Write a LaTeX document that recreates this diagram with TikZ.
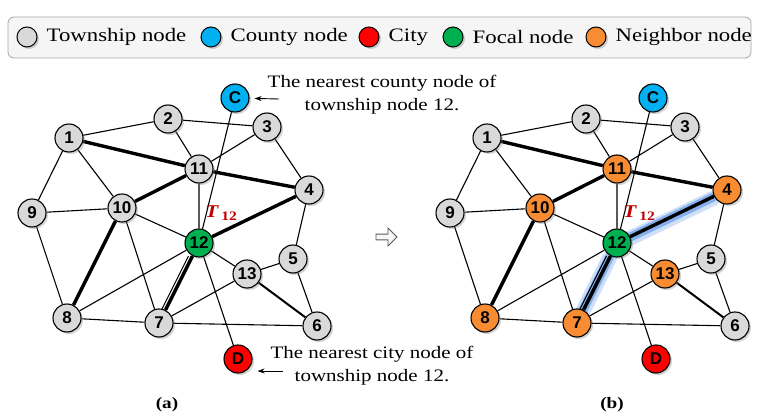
\documentclass[tikz,border=0pt]{standalone}
\usepackage{fontspec}
\setmainfont{Liberation Serif}[FakeStretch=1.2]
\setsansfont{Liberation Sans}
\usetikzlibrary{shadows, shapes.arrows, arrows.meta, positioning}

\definecolor{towngray}{RGB}{217,217,217}
\definecolor{countyblue}{RGB}{0,176,240}
\definecolor{cityred}{RGB}{255,0,0}
\definecolor{focalgreen}{RGB}{0,176,80}
\definecolor{nbrorange}{RGB}{247,140,50}
\definecolor{glowblue}{RGB}{95,150,230}
\definecolor{tred}{RGB}{192,0,0}

\pgfdeclarelayer{back}
\pgfsetlayers{back,main}

\tikzset{
  vert/.style={circle, draw=black, line width=1.1pt, minimum size=28pt, inner sep=0pt,
    font=\sffamily\bfseries\fontsize{17}{17}\selectfont,
    drop shadow={shadow xshift=2pt, shadow yshift=-2pt, opacity=.35}},
  town/.style={vert, fill=towngray},
  county/.style={vert, fill=countyblue},
  city/.style={vert, fill=cityred},
  focal/.style={vert, fill=focalgreen},
  nbr/.style={vert, fill=nbrorange},
  edge/.style={line width=1.1pt},
  heavy/.style={line width=3.4pt},
  pointer/.style={-{Stealth[length=7pt,width=5pt]}, line width=.9pt, shorten >=5pt},
  note/.style={align=center, font=\fontsize{17.5}{23}\selectfont},
  legdot/.style={circle, draw=black, line width=1pt, minimum size=20pt, inner sep=0pt,
    drop shadow={shadow xshift=2pt, shadow yshift=-2pt, opacity=.35}},
  legtext/.style={font=\fontsize{19}{19}\selectfont, inner sep=1pt},
}

% the township network; nb and hl are set by the scope
\newcommand{\townnet}{%
  \node[town]   (1)  at (69,138)  {1};
  \node[town]   (2)  at (168,119) {2};
  \node[town]   (3)  at (267,127) {3};
  \node[nb]     (4)  at (309,190) {4};
  \node[town]   (5)  at (293,259) {5};
  \node[town]   (6)  at (317,326) {6};
  \node[nb]     (7)  at (159,323) {7};
  \node[nb]     (8)  at (67,318)  {8};
  \node[town]   (9)  at (32,213)  {9};
  \node[nb]     (10) at (122,208) {10};
  \node[nb]     (11) at (199,169) {11};
  \node[focal]  (12) at (199,243) {12};
  \node[nb]     (13) at (247,274) {13};
  \node[county] (C)  at (235,98)  {C};
  \node[city]   (D)  at (238,359) {D};
  \node[anchor=west, text=tred, font=\bfseries\itshape\fontsize{18}{18}\selectfont, inner sep=0pt]
    (T) at (205,213) {T\,\raisebox{-3pt}{\upshape\fontsize{13}{13}\selectfont 12}};
  \begin{pgfonlayer}{back}
    \path[hl, transform canvas={xshift=-1pt, yshift=-2pt}] (12) -- (4) (12) -- (7);
    \path[hlcore, transform canvas={xshift=-1pt, yshift=-1pt}] (12) -- (4) (12) -- (7);
    \draw[edge] (1) -- (2) (2) -- (3) (2) -- (11) (1) -- (10) (1) -- (9)
      (3) -- (11) (3) -- (4) (11) -- (12) (C) -- (12) (9) -- (10) (9) -- (8)
      (10) -- (12) (10) -- (7) (12) -- (8) (12) -- (13) (12) -- (D)
      (4) -- (5) (5) -- (13) (5) -- (6) (13) -- (7) (8) -- (7) (7) -- (6);
    \draw[edge, transform canvas={xshift=-4pt}] (12) -- (7);
    \draw[heavy] (1) -- (11) (11) -- (4) (11) -- (10) (10) -- (8)
      (12) -- (4) (12) -- (7);
    \draw[line width=2pt] (13) -- (6);
  \end{pgfonlayer}
}

\begin{document}
\begin{tikzpicture}[x=1pt, y=-1pt]
  \useasboundingbox (0,0) rectangle (757,419);

  % legend
  \node[draw=gray!70, fill=gray!8, line width=.8pt, rounded corners=6pt,
    minimum width=743pt, minimum height=41pt] (legend) at (379.5,37.5) {};
  \node[legdot, fill=towngray]   (ltown)   at (27,37)  {};
  \node[legtext, right=8pt of ltown]   {Township node};
  \node[legdot, fill=countyblue] (lcounty) at (211,37) {};
  \node[legtext, right=8pt of lcounty] {County node};
  \node[legdot, fill=cityred]    (lcity)   at (369,37) {};
  \node[legtext, right=8pt of lcity]   {City};
  \node[legdot, fill=focalgreen] (lfocal)  at (453,37) {};
  \node[legtext, right=8pt of lfocal]  {Focal node};
  \node[legdot, fill=nbrorange]  (lnbr)    at (596,37) {};
  \node[legtext, right=8pt of lnbr]    {Neighbor node};

  % (a) before
  \begin{scope}[name prefix=a-, nb/.style={town}, hl/.style={}, hlcore/.style={}]
    \townnet
  \end{scope}

  % (b) neighbours of 12
  \begin{scope}[xshift=418pt, name prefix=b-, nb/.style={nbr},
      hl/.style={draw=glowblue, line width=15pt, opacity=.3, line cap=round},
      hlcore/.style={draw=glowblue, line width=9pt, opacity=.65, line cap=round}]
    \townnet
  \end{scope}

  % notes on panel (a)
  \node[note] (ctext) at (382,95) {The nearest county node of\\township node 12.};
  \coordinate (cfoot) at (279,99);
  \draw[pointer] (cfoot) -- (a-C);
  \node[note] (dtext) at (372,366) {The nearest city node of\\township node 12.};
  \coordinate (dfoot) at (283,371);
  \draw[pointer] (dfoot) -- (dfoot -| a-D.east);

  \node[single arrow, draw=black!65, fill=gray!6, line width=.8pt,
    minimum height=21pt, minimum width=18pt, single arrow head extend=3pt,
    inner sep=1pt] (nextarrow) at (385,237) {};

  \node[font=\bfseries\fontsize{16}{16}\selectfont] (capa) at (167,405) {(a)};
  \node[font=\bfseries\fontsize{16}{16}\selectfont] (capb) at (612,405) {(b)};
\end{tikzpicture}
\end{document}
